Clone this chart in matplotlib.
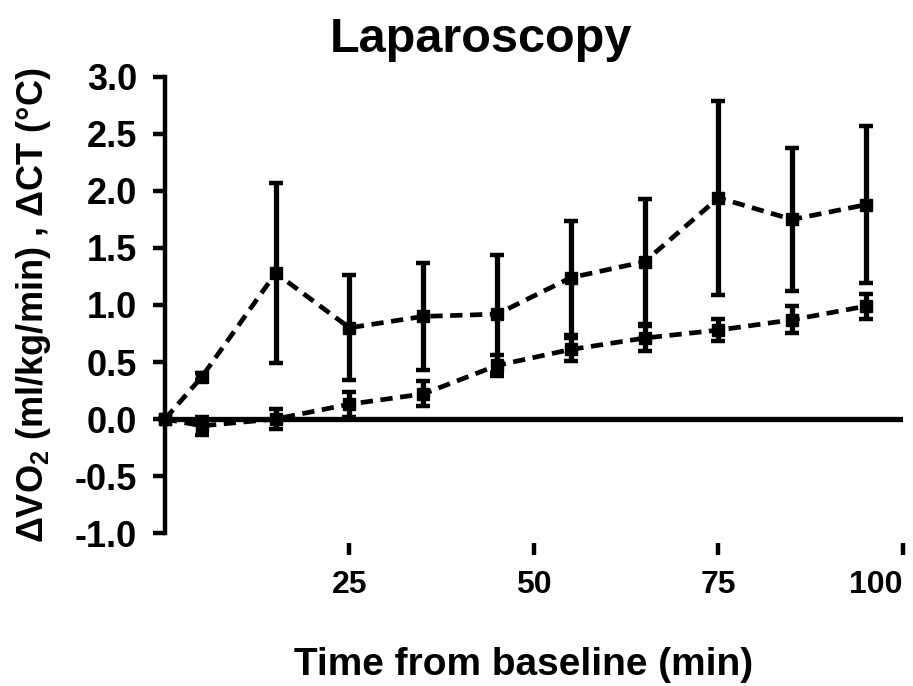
import matplotlib
matplotlib.use("Agg")
import matplotlib.pyplot as plt

plt.rcParams['font.family'] = ['Liberation Sans', 'DejaVu Sans']
plt.rcParams['font.weight'] = 'bold'
plt.rcParams['mathtext.fontset'] = 'custom'
plt.rcParams['mathtext.bf'] = 'Liberation Sans:bold'
plt.rcParams['mathtext.rm'] = 'Liberation Sans:bold'
plt.rcParams['mathtext.default'] = 'bf'

# time points (min), first point is baseline
time_min = [0, 5, 15, 25, 35, 45, 55, 65, 75, 85, 95]

# upper curve (VO2) and its error bars
vo2 = [0.0, 0.37, 1.28, 0.80, 0.90, 0.92, 1.24, 1.38, 1.94, 1.75, 1.88]
vo2_err = [0.0, 0.03, 0.79, 0.46, 0.47, 0.52, 0.50, 0.55, 0.85, 0.63, 0.69]

# lower curve (core temperature) and its error bars
ct = [0.0, -0.06, 0.00, 0.13, 0.22, 0.47, 0.61, 0.71, 0.78, 0.87, 0.99]
ct_err = [0.0, 0.08, 0.09, 0.11, 0.11, 0.09, 0.10, 0.11, 0.10, 0.12, 0.11]

x_ticks = [25, 50, 75, 100]
x_ticklabels = ['25', '50', '75', '100']
y_ticks = [-1.0, -0.5, 0.0, 0.5, 1.0, 1.5, 2.0, 2.5, 3.0]
y_ticklabels = ['-1.0', '-0.5', '0.0', '0.5', '1.0', '1.5', '2.0', '2.5', '3.0']

fig = plt.figure(figsize=(9.13, 6.86), dpi=100)
ax = fig.add_axes([0.1807, 0.223, 0.8083, 0.6648])

dash = (0, (2.6, 1.6))
for yv, ev in [(vo2, vo2_err), (ct, ct_err)]:
    ax.errorbar(time_min, yv, yerr=ev, color='black', lw=3.4, ls=dash,
                marker='s', markersize=8, elinewidth=3.8, capsize=5,
                capthick=3.2, clip_on=False, zorder=3)

ax.axhline(0, color='black', lw=3.8, zorder=2)

ax.set_xlim(0, 100)
ax.set_ylim(-1.0, 3.0)

ax.spines['top'].set_visible(False)
ax.spines['right'].set_visible(False)
ax.spines['bottom'].set_visible(False)
ax.spines['bottom'].set_position(('outward', 7))
ax.spines['left'].set_linewidth(3.2)

ax.set_xticks(x_ticks)
ax.set_xticklabels(x_ticklabels)
ax.set_yticks(y_ticks)
ax.set_yticklabels(y_ticklabels)
ax.tick_params(axis='x', length=8.5, width=3.2, pad=11, labelsize=23)
ax.tick_params(axis='y', length=9, width=3.2, pad=11, labelsize=26)

# last x label sits at the right edge, keep it inside the picture
ax.get_xticklabels()[-1].set_ha('right')

ax.set_xlabel('Time from baseline (min)', fontsize=28, fontweight='bold')
ax.xaxis.set_label_coords(0.486, -0.25)
ax.set_ylabel(r'ΔVO$_2$ (ml/kg/min) , ΔCT (°C)', fontsize=26, fontweight='bold', labelpad=16)
ax.set_title('Laparoscopy', fontsize=35, fontweight='bold', x=0.428, pad=18)

fig.savefig('out.png', dpi=100)
